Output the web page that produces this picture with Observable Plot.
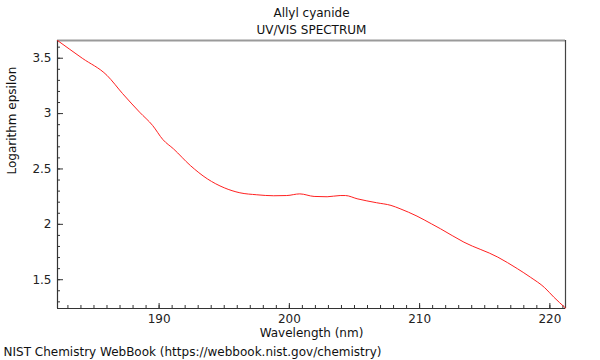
<!DOCTYPE html>
<html>
<head>
<meta charset="utf-8">
<script src="https://cdn.jsdelivr.net/npm/d3@7"></script>
<script src="https://cdn.jsdelivr.net/npm/@observablehq/plot@0.6"></script>
<style>
  html, body { margin: 0; padding: 0; background: #fff; }
</style>
</head>
<body>
<div id="chart"></div>
<script>
const title = "Allyl cyanide";
const subtitle = "UV/VIS SPECTRUM";
const xLabel = "Wavelength (nm)";
const yLabel = "Logarithm epsilon";
const caption = "NIST Chemistry WebBook (https://webbook.nist.gov/chemistry)";

const wavelength = [182.2, 184.1, 186.0, 187.2, 188.5, 189.5, 190.3, 191.1, 192.4, 193.7, 195.0, 196.2, 197.5, 198.8, 199.8, 200.8, 201.9, 202.9, 203.9, 204.3, 205.2, 206.7, 207.8, 208.5, 209.8, 210.9, 211.6, 213.4, 216.0, 217.5, 218.5, 219.6, 220.3, 221.2];
const logEpsilon = [3.66, 3.5, 3.345, 3.18, 3.013, 2.893, 2.764, 2.682, 2.531, 2.411, 2.33, 2.285, 2.267, 2.258, 2.26, 2.275, 2.252, 2.249, 2.26, 2.26, 2.231, 2.195, 2.171, 2.141, 2.074, 2.005, 1.96, 1.839, 1.704, 1.60, 1.523, 1.428, 1.343, 1.244];

const xDomain = [182.2, 221.2];
const yDomain = [1.24, 3.66];
const xMajorTicks = [190, 200, 210, 220];
const yMajorTicks = [1.5, 2, 2.5, 3, 3.5];
const xMinorTicks = d3.range(183, 222, 1);
const yMinorTicks = d3.range(13, 37, 1).map(d => d / 10);

const data = wavelength.map((w, i) => ({w, v: logEpsilon[i]}));

const W = 600, H = 360, mL = 57, mR = 35, mT = 40, mB = 52;
const fw = W - mL - mR, fh = H - mT - mB;

const chart = Plot.plot({
  width: W,
  height: H,
  marginLeft: mL,
  marginRight: mR,
  marginTop: mT,
  marginBottom: mB,
  style: {fontFamily: "DejaVu Sans", fontSize: "12px", color: "#222", background: "#fff"},
  x: {domain: xDomain, label: null},
  y: {domain: yDomain, label: null},
  marks: [
    Plot.ruleY([yDomain[1]], {stroke: "#9a9a9a", strokeWidth: 2}),
    Plot.ruleX([xDomain[1]], {stroke: "#444", strokeWidth: 1.2}),
    Plot.ruleX([xDomain[0]], {stroke: "#333", strokeWidth: 1.2}),
    Plot.ruleY([yDomain[0]], {stroke: "#333", strokeWidth: 1.2}),
    Plot.tickX(xMinorTicks, {stroke: "#333", insetTop: fh - 3}),
    Plot.tickX(xMajorTicks, {stroke: "#333", insetTop: fh - 5}),
    Plot.tickY(yMinorTicks, {stroke: "#333", insetRight: fw - 3}),
    Plot.tickY(yMajorTicks, {stroke: "#333", insetRight: fw - 6}),
    Plot.axisX(xMajorTicks, {tickSize: 0, tickPadding: 6, label: null, fill: "#222"}),
    Plot.axisY(yMajorTicks, {tickSize: 0, tickPadding: 6, label: null, fill: "#222", tickFormat: d => String(d)}),
    Plot.line(data, {x: "w", y: "v", stroke: "#ff2020", strokeWidth: 1, curve: "monotone-x"}),
    Plot.text([title], {frameAnchor: "top", lineAnchor: "middle", dy: -27, fill: "#111", fontSize: 12}),
    Plot.text([subtitle], {frameAnchor: "top", lineAnchor: "middle", dy: -10, fill: "#111", fontSize: 12}),
    Plot.text([xLabel], {frameAnchor: "bottom", lineAnchor: "middle", dy: 25, fill: "#111", fontSize: 12}),
    Plot.text([yLabel], {frameAnchor: "left", dx: -45, rotate: -90, fill: "#111", fontSize: 12}),
    Plot.text([caption], {frameAnchor: "bottom-left", lineAnchor: "middle", dx: -54, dy: 44, textAnchor: "start", fill: "#111", fontSize: 12})
  ]
});
document.getElementById("chart").appendChild(chart);
</script>
</body>
</html>
